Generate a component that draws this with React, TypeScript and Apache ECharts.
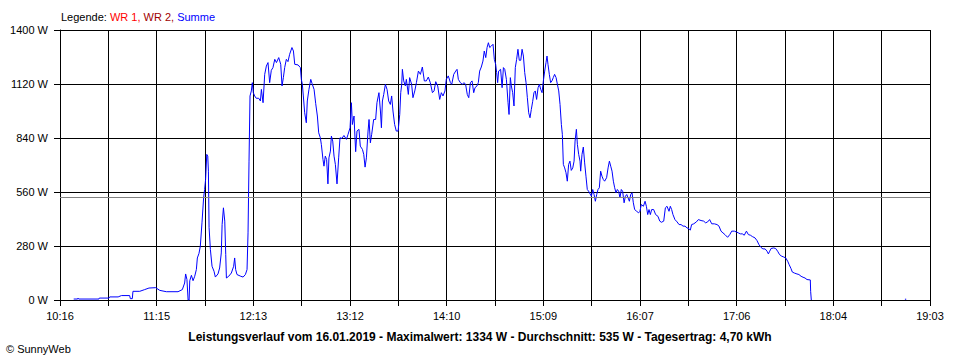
import React, { useEffect, useRef } from "react";
import * as echarts from "echarts";

// Start of the x axis: 10:16 (minutes since midnight)
const startClock = 10 * 60 + 16;
const endElapsed = 527; // 19:03
const yTicks = [0, 280, 560, 840, 1120, 1400];
const average = 535;

// elapsed minutes since 10:16 and power of "Summe" in W
const elapsedMinutes = [
  8.3, 10.7, 10.9, 11.3, 23.6, 23.8, 29.7, 30.1, 35.2, 37.2, 42.2, 42.6, 43.8, 44.2, 48.3, 51.3, 53.9, 58.0, 60.4, 64.4,
  71.5, 74.1, 75.5, 76.1, 76.9, 77.6, 78.2, 78.6, 79.6, 80.6, 81.6, 82.6, 83.2, 84.2, 85.0, 86.0, 87.0, 87.6, 88.2, 88.9,
  89.5, 89.9, 90.3, 91.1, 92.1, 93.3, 94.1, 95.7, 96.7, 97.7, 98.2, 99.0, 99.8, 100.4, 100.8, 102.2, 103.8, 105.2, 105.8, 106.4,
  107.2, 109.5, 110.9, 112.3, 113.3, 113.9, 114.5, 115.1, 115.9, 116.5, 117.1, 117.9, 118.9, 120.4, 121.4, 122.0, 123.0, 124.0, 125.0, 126.0,
  127.0, 128.0, 129.0, 130.1, 131.1, 132.5, 133.7, 134.5, 135.3, 136.1, 137.1, 138.1, 139.1, 140.5, 141.4, 142.2, 144.2, 145.6, 146.2, 146.8,
  147.4, 148.2, 149.2, 149.8, 150.8, 151.9, 152.7, 153.9, 154.9, 155.9, 156.7, 157.7, 158.3, 159.3, 159.9, 160.7, 161.5, 162.3, 162.9, 163.8,
  164.4, 165.2, 166.0, 166.8, 167.8, 168.8, 169.6, 170.8, 172.0, 173.5, 174.5, 175.7, 176.5, 177.1, 178.1, 178.5, 179.1, 179.9, 181.1, 181.9,
  183.2, 184.0, 184.8, 185.6, 186.6, 187.2, 188.0, 188.8, 190.0, 191.2, 192.0, 193.2, 194.1, 194.7, 195.3, 196.1, 197.1, 198.1, 199.1, 200.1,
  200.9, 201.7, 202.7, 203.7, 204.8, 205.8, 206.4, 207.0, 207.4, 208.2, 209.2, 209.8, 211.0, 211.8, 213.0, 213.8, 214.9, 215.9, 217.1, 218.3,
  219.5, 220.7, 221.9, 223.1, 224.3, 225.6, 226.6, 227.6, 228.8, 230.0, 231.0, 232.0, 233.2, 234.0, 235.2, 236.5, 237.3, 238.5, 239.7, 240.5,
  241.3, 242.5, 243.7, 244.7, 245.7, 246.7, 247.6, 248.6, 249.6, 250.6, 251.4, 252.6, 253.4, 254.2, 255.2, 256.2, 257.0, 257.9, 258.7, 259.5,
  260.3, 261.3, 262.3, 263.1, 263.9, 264.5, 265.1, 265.7, 266.9, 267.8, 268.6, 269.4, 270.4, 271.4, 272.0, 272.8, 273.4, 274.2, 275.0, 275.8,
  276.6, 277.4, 278.2, 279.1, 279.9, 280.7, 281.5, 282.3, 283.1, 283.9, 284.7, 285.5, 286.3, 287.1, 287.9, 288.7, 289.6, 290.4, 291.2, 292.0,
  292.8, 293.6, 294.4, 295.0, 295.6, 296.4, 297.2, 298.0, 298.8, 299.6, 300.5, 301.3, 302.1, 302.9, 303.7, 304.3, 304.9, 305.7, 306.5, 307.3,
  308.1, 308.9, 309.7, 310.6, 311.4, 312.0, 312.8, 313.4, 314.2, 315.0, 315.4, 316.2, 317.0, 317.8, 318.6, 319.4, 320.2, 321.1, 321.9, 322.7,
  323.5, 324.3, 325.1, 325.9, 326.7, 327.5, 328.3, 329.1, 329.9, 331.1, 332.0, 332.8, 333.6, 334.4, 335.2, 336.0, 336.8, 337.6, 338.4, 339.2,
  340.0, 340.8, 341.7, 342.5, 343.3, 344.1, 344.9, 345.7, 346.5, 347.3, 348.1, 349.3, 350.5, 351.3, 352.1, 353.4, 354.4, 355.2, 356.0, 356.8,
  357.6, 358.4, 359.6, 360.8, 362.2, 363.3, 364.3, 365.7, 366.7, 367.7, 368.9, 369.7, 370.5, 371.3, 372.5, 373.8, 375.0, 376.2, 377.4, 378.6,
  379.8, 381.0, 381.8, 382.6, 383.9, 385.5, 386.7, 388.3, 389.9, 391.1, 392.3, 393.5, 394.8, 396.4, 398.0, 399.2, 400.4, 401.6, 402.8, 404.4,
  405.7, 406.9, 408.5, 409.7, 410.9, 412.1, 413.3, 414.5, 415.8, 417.0, 418.2, 419.4, 421.0, 422.2, 423.4, 424.6, 425.8, 427.1, 428.3, 429.1,
  429.9, 430.7, 432.3, 433.5, 434.7, 435.9, 437.2, 438.4, 439.6, 440.8, 441.6, 442.8, 443.6, 444.8, 446.4, 447.6, 448.9, 450.1, 451.3, 452.5,
  454.5, 454.7, 455.1,
];

const watts = [
  5, 5, 10, 5, 5, 10, 10, 16, 16, 23, 23, 7, 7, 45, 45, 54, 62, 64, 50, 43,
  43, 54, 88, 135, 106, 0, 0, 100, 128, 100, 123, 158, 218, 242, 279, 400, 530, 573, 625, 755,
  746, 668, 377, 261, 175, 149, 119, 135, 166, 244, 391, 478, 409, 235, 114, 123, 140, 175, 218, 158,
  132, 123, 119, 132, 158, 348, 720, 1058, 1084, 1127, 1075, 1058, 1046, 1046, 1032, 1092, 1023, 1170, 1213, 1231,
  1127, 1191, 1205, 1248, 1231, 1257, 1222, 1110, 1153, 1205, 1248, 1236, 1274, 1309, 1291, 1222, 1219, 1205, 1144, 1118,
  1058, 971, 919, 1032, 1092, 1144, 1122, 1092, 1018, 954, 867, 841, 807, 729, 694, 746, 729, 602, 737, 772,
  850, 824, 746, 703, 602, 737, 841, 838, 853, 833, 859, 893, 1023, 910, 954, 876, 769, 876, 885, 798,
  781, 755, 689, 737, 876, 936, 815, 859, 936, 936, 1023, 1075, 980, 893, 1032, 1066, 1118, 1092, 1032, 1014,
  1058, 980, 910, 876, 876, 962, 1075, 1118, 1196, 1136, 1110, 1144, 1066, 1153, 1118, 1049, 1084, 1127, 1187, 1170,
  1208, 1136, 1136, 1156, 1127, 1075, 1084, 1132, 1110, 1040, 1075, 1058, 1084, 1144, 1162, 1127, 1118, 1170, 1187, 1196,
  1144, 1127, 1118, 1127, 1118, 1066, 1049, 1127, 1136, 1075, 1101, 1110, 1127, 1187, 1208, 1239, 1291, 1257, 1309, 1334,
  1309, 1317, 1326, 1248, 1222, 1179, 1127, 1187, 1196, 1101, 1205, 1196, 1144, 1023, 962, 1153, 1110, 1075, 1006, 1205,
  1248, 1300, 1243, 1243, 1300, 1265, 1179, 1127, 1049, 971, 945, 988, 1028, 1075, 1084, 1040, 1101, 1118, 1092, 1075,
  1136, 1187, 1231, 1265, 1222, 1170, 1127, 1136, 1153, 1170, 1153, 1118, 1084, 1014, 910, 859, 703, 685, 660, 616,
  703, 720, 672, 685, 720, 824, 885, 807, 755, 720, 668, 755, 793, 711, 642, 573, 564, 550, 538, 573,
  547, 512, 547, 573, 582, 668, 642, 625, 616, 634, 685, 720, 694, 668, 616, 582, 556, 573, 564, 530,
  573, 564, 504, 538, 547, 530, 512, 547, 556, 504, 469, 460, 452, 460, 495, 486, 512, 486, 443, 469,
  443, 469, 469, 443, 434, 409, 403, 409, 478, 486, 460, 486, 469, 443, 417, 405, 391, 391, 383, 383,
  374, 370, 362, 391, 395, 405, 417, 412, 409, 400, 405, 417, 395, 395, 391, 383, 357, 348, 339, 325,
  339, 357, 357, 353, 348, 343, 343, 336, 357, 339, 336, 329, 322, 308, 287, 273, 265, 265, 253, 239,
  253, 267, 270, 267, 253, 235, 227, 223, 218, 201, 185, 163, 145, 140, 135, 132, 123, 118, 114, 106,
  104, 45, 0,
];

// short late reading after the drop
const lateMinutes = [511.8, 512.6];
const lateWatts = [4, 4];

const titleText =
  "Leistungsverlauf vom 16.01.2019 - Maximalwert: 1334 W - Durchschnitt: 535 W - Tagesertrag: 4,70 kWh";

const FONT = "'Liberation Sans', Arial, sans-serif";

function fmtClock(v: number): string {
  const t = Math.round(startClock + v);
  const h = Math.floor(t / 60);
  const m = t % 60;
  return `${h}:${m < 10 ? "0" + m : m}`;
}

export default function App() {
  const ref = useRef<HTMLDivElement>(null);
  useEffect(() => {
    if (!ref.current) return;
    const chart = echarts.init(ref.current, undefined, { renderer: "svg" });
    const mainData = elapsedMinutes.map((m, i) => [m, watts[i]]);
    const lateData = lateMinutes.map((m, i) => [m, lateWatts[i]]);
    chart.setOption({
      animation: false,
      backgroundColor: "#ffffff",
      grid: { left: 60, right: 30, top: 30, bottom: 60, containLabel: false },
      xAxis: {
        type: "value",
        min: 0,
        max: endElapsed,
        interval: endElapsed / 18,
        axisLine: { show: true, lineStyle: { color: "#000", width: 1 } },
        axisTick: { show: true, inside: false, length: 6, lineStyle: { color: "#000" } },
        axisLabel: {
          show: true,
          color: "#000",
          fontFamily: FONT,
          fontSize: 11,
          margin: 10,
          formatter: (v: number, idx: number) => (idx % 2 === 0 ? fmtClock(v) : ""),
        },
        splitLine: { show: true, lineStyle: { color: "#000", width: 1 } },
      },
      yAxis: {
        type: "value",
        min: yTicks[0],
        max: yTicks[yTicks.length - 1],
        interval: yTicks[1] - yTicks[0],
        axisLine: { show: true, lineStyle: { color: "#000", width: 1 } },
        axisTick: { show: true, inside: false, length: 6, lineStyle: { color: "#000" } },
        axisLabel: {
          color: "#000",
          fontFamily: FONT,
          fontSize: 11,
          margin: 12,
          formatter: (v: number) => `${v} W`,
        },
        splitLine: { show: true, lineStyle: { color: "#000", width: 1 } },
      },
      series: [
        {
          name: "Durchschnitt",
          type: "line",
          data: [],
          silent: true,
          markLine: {
            silent: true,
            symbol: ["none", "none"],
            label: { show: false },
            lineStyle: { color: "#808080", type: "solid", width: 1 },
            data: [{ yAxis: average }],
          },
        },
        {
          name: "Summe",
          type: "line",
          data: mainData,
          showSymbol: false,
          symbol: "none",
          lineStyle: { color: "#0000ff", width: 1 },
          itemStyle: { color: "#0000ff" },
        },
        {
          name: "Summe spät",
          type: "line",
          data: lateData,
          showSymbol: false,
          symbol: "none",
          lineStyle: { color: "#0000ff", width: 1 },
        },
      ],
      graphic: [
        {
          type: "text",
          left: 61,
          top: 11,
          style: {
            text: "Legende: {r|WR 1,} {d|WR 2,} {b|Summe}",
            font: `11px ${FONT}`,
            fill: "#000",
            rich: {
              r: { fill: "#ff0000", font: `11px ${FONT}` },
              d: { fill: "#a00000", font: `11px ${FONT}` },
              b: { fill: "#0000ff", font: `11px ${FONT}` },
            },
          },
        },
        {
          type: "text",
          x: 480,
          y: 337,
          style: {
            text: titleText,
            font: `bold 12px ${FONT}`,
            fill: "#000",
            align: "center",
            verticalAlign: "middle",
          },
        },
        {
          type: "text",
          x: 6,
          y: 349,
          style: {
            text: "© SunnyWeb",
            font: `11px ${FONT}`,
            fill: "#000",
            align: "left",
            verticalAlign: "middle",
          },
        },
      ],
    });
    return () => chart.dispose();
  }, []);
  return <div ref={ref} style={{ width: 960, height: 360, position: "absolute", left: 0, top: 0 }} />;
}
